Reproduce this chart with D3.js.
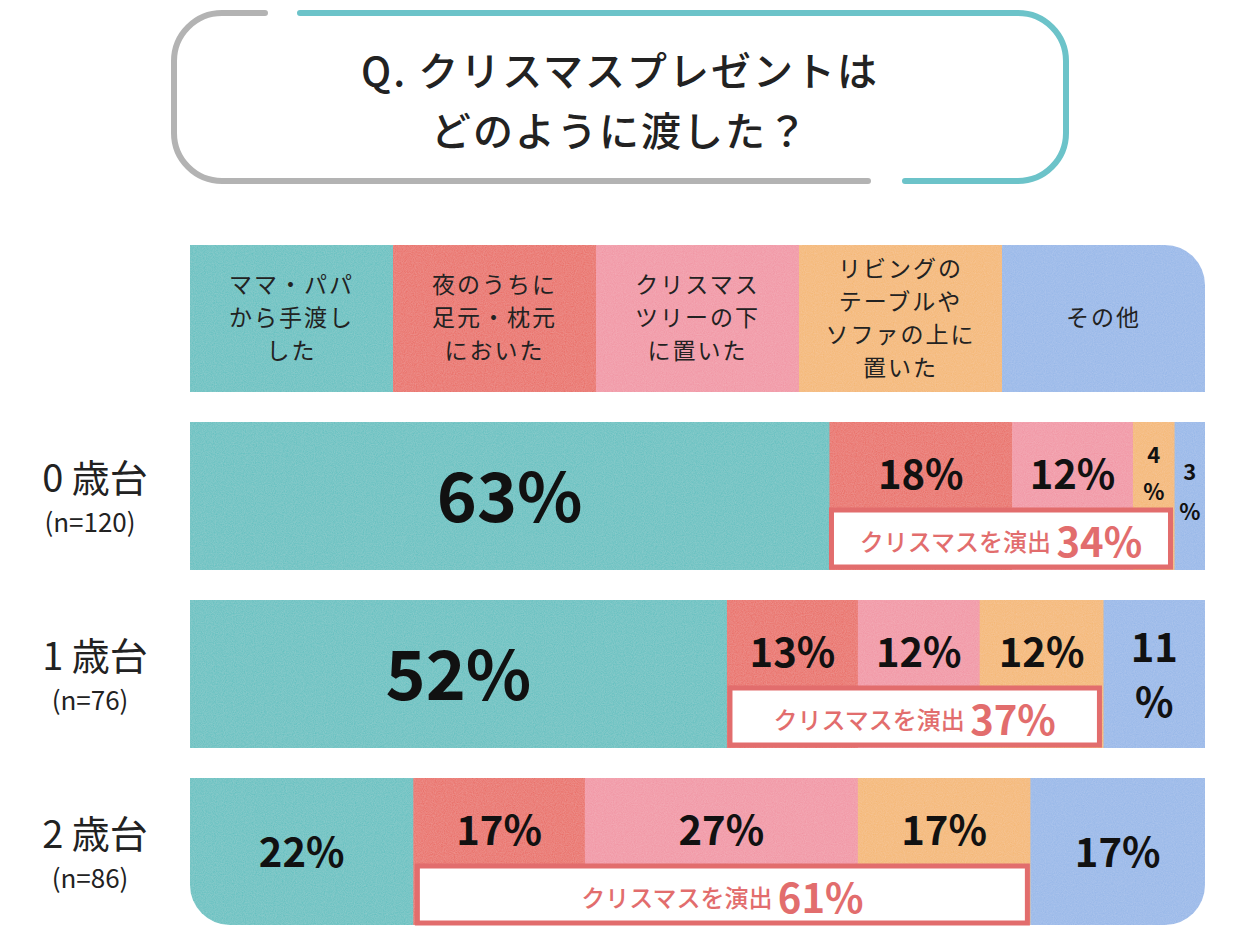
<!DOCTYPE html>
<html><head><meta charset="utf-8">
<script src="https://cdn.jsdelivr.net/npm/d3@7"></script>
<style>body{margin:0;background:#fff}</style></head>
<body><svg id="c" width="1242" height="940"></svg>
<script>
const categories=["ママ・パパ\nから手渡し\nした","夜のうちに\n足元・枕元\nにおいた","クリスマス\nツリーの下\nに置いた","リビングの\nテーブルや\nソファの上に\n置いた","その他"];
const groups=["0歳台","1歳台","2歳台"];
const ns=["(n=120)","(n=76)","(n=86)"];
const values=[[63,18,12,4,3],[52,13,12,12,11],[22,17,27,17,17]];
const bounds=[[63,81,92.9,97,100],[52.9,65.8,77.8,90,100],[22,38.9,65.8,82.8,100]];
const produce=[34,37,61];
const colors=["#5fbfbf","#e96b62","#f193a2","#f4b670","#94b6e8"];
const svg=d3.select("#c");
const F="'Noto Sans CJK JP',sans-serif";
const defs=svg.append("defs");
const f=defs.append("filter").attr("id","n");
f.append("feTurbulence").attr("type","fractalNoise").attr("baseFrequency",0.9).attr("numOctaves",2).attr("result","t");
f.append("feColorMatrix").attr("in","t").attr("type","matrix").attr("values","0 0 0 0 1 0 0 0 0 1 0 0 0 0 1 0 0 0 0.18 0").attr("result","w");
f.append("feComposite").attr("in","w").attr("in2","SourceGraphic").attr("operator","in").attr("result","w2");
f.append("feMerge").selectAll("m").data(["SourceGraphic","w2"]).join("feMergeNode").attr("in",d=>d);
const tb=svg.append("g").attr("fill","none").attr("stroke-width",6).attr("stroke-linecap","round");
tb.append("path").attr("d","M265,13 H222 A48,48 0 0 0 174,61 V133 A48,48 0 0 0 222,181 H868").attr("stroke","#b3b3b3");
tb.append("path").attr("d","M300,13 H1018 A48,48 0 0 1 1066,61 V133 A48,48 0 0 1 1018,181 H905").attr("stroke","#6cc3c9");
[["Q. クリスマスプレゼントは",86],["どのように渡した？",146]].forEach(d=>
svg.append("text").attr("x",620).attr("y",d[1]).attr("text-anchor","middle").attr("font-family",F).attr("font-weight",500).attr("font-size",40).attr("letter-spacing",2).attr("fill","#222").text(d[0]));
const x=d3.scaleLinear().domain([0,100]).range([190,1205]);
const rowY=[422,600,778], H=148;
defs.append("clipPath").attr("id","cl").append("path").attr("d",`M190,245 H1165 A40,40 0 0 1 1205,285 V885 A40,40 0 0 1 1165,925 H230 A40,40 0 0 1 190,885 Z`);
const g=svg.append("g").attr("clip-path","url(#cl)").attr("filter","url(#n)");
const hb=[0,20,40,60,80,100];
categories.forEach((c,i)=>{
  g.append("rect").attr("x",x(hb[i])).attr("y",245).attr("width",x(hb[i+1])-x(hb[i])+0.5).attr("height",147).attr("fill",colors[i]);
});
values.forEach((row,r)=>{
  row.forEach((v,i)=>{
    const a=i?bounds[r][i-1]:0,b=bounds[r][i];
    g.append("rect").attr("x",x(a)).attr("y",rowY[r]).attr("width",x(b)-x(a)+0.5).attr("height",H).attr("fill",colors[i]);
  });
});
categories.forEach((c,i)=>{
  const lines=c.split("\n"); const cx=(x(hb[i])+x(hb[i+1]))/2;
  const t=svg.append("text").attr("text-anchor","middle").attr("font-family",F).attr("font-size",23).attr("fill","#222").attr("letter-spacing",2);
  lines.forEach((l,k)=>t.append("tspan").attr("x",cx).attr("y",318+(k-(lines.length-1)/2)*33+8).text(l));
});
const tp=(t,cx,cy,s)=>svg.append("text").attr("x",cx).attr("y",cy).attr("text-anchor","middle").attr("dominant-baseline","central").attr("font-family",F).attr("font-weight","bold").attr("font-size",s).attr("fill","#111").text(t);
values.forEach((row,r)=>{
  const y0=rowY[r];
  svg.append("text").attr("x",95).attr("y",y0+70).attr("text-anchor","middle").attr("font-family",F).attr("font-size",38).attr("fill","#222").text(groups[r].replace(/^(\d)/,"$1 "));
  svg.append("text").attr("x",90).attr("y",y0+110).attr("text-anchor","middle").attr("font-family",F).attr("font-size",26).attr("fill","#222").text(ns[r]);
  row.forEach((v,i)=>{
    const a=i?bounds[r][i-1]:0,b=bounds[r][i],cx=(x(a)+x(b))/2, w=x(b)-x(a);
    if(i===0&&v>40) tp(v+"%",cx,y0+70,68);
    else if(w<48){const dy=i===4?[48,88]:[31,68];tp(String(v),cx,y0+dy[0],22);tp("%",cx,y0+dy[1],22);}
    else if(w<110){tp(String(v),cx,y0+45,40);tp("%",cx,y0+100,40);}
    else tp(v+"%",cx,(i===0||i===4)&&r===2?y0+72:y0+50,40);
  });
});
const boxes=[[63.2,96.6],[53.2,89.6],[22.4,82.5]];
boxes.forEach((bx,r)=>{
  const y=rowY[r]+88,x0=x(bx[0]),x1=x(bx[1]);
  svg.append("rect").attr("x",x0).attr("y",y).attr("width",x1-x0).attr("height",57).attr("fill","#fff").attr("stroke","#e26d6d").attr("stroke-width",5);
  const t=svg.append("text").attr("x",(x0+x1)/2).attr("y",y+30).attr("text-anchor","middle").attr("dominant-baseline","central").attr("font-family",F).attr("fill","#e26d6d");
  t.append("tspan").attr("font-size",24).attr("font-weight",500).text("クリスマスを演出 ");
  t.append("tspan").attr("font-size",40).attr("font-weight","bold").text(produce[r]+"%");
});
</script></body></html>
